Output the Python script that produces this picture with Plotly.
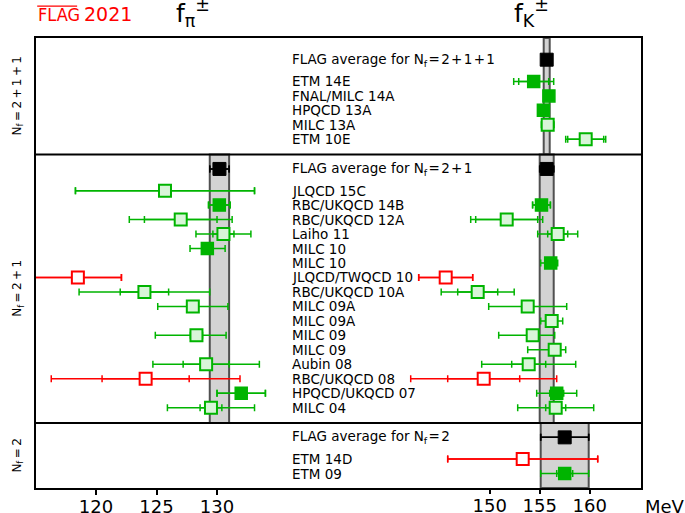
import plotly.graph_objects as go

# ---- data (MeV) ----
# Nf = 2+1+1 : only f_K
labels_2111 = ["ETM 14E", "FNAL/MILC 14A", "HPQCD 13A", "MILC 13A", "ETM 10E"]
quality_2111 = ["good", "good", "good", "ok", "ok"]
fk_2111 = [154.4, 155.92, 155.37, 155.80, 159.6]
fk_2111_stat = [1.5, 0.13, 0.34, 0.34, 1.8]
fk_2111_up = [2.0, 0.34, 0.34, 0.63, 2.0]
fk_2111_dn = [2.0, 0.25, 0.34, 0.63, 2.0]

# Nf = 2+1
labels_21 = ["JLQCD 15C", "RBC/UKQCD 14B", "RBC/UKQCD 12A", "Laiho 11", "MILC 10",
             "MILC 10", "JLQCD/TWQCD 10", "RBC/UKQCD 10A", "MILC 09A", "MILC 09A",
             "MILC 09", "MILC 09", "Aubin 08", "RBC/UKQCD 08", "HPQCD/UKQCD 07", "MILC 04"]
quality_21 = ["ok", "good", "ok", "ok", "good", "good", "bad", "ok", "ok", "ok",
              "ok", "ok", "ok", "bad", "good", "ok"]
fpi_21 = [125.7, 130.19, 127.0, 130.53, 129.2, None, 118.5, 124.0, 128.0, None,
          128.3, None, 129.1, 124.1, 132.0, 129.5]
fpi_21_stat = [7.4, 0.89, 3.0, 0.87, 0.4, None, 3.6, 2.0, 0.3, None,
               0.5, None, 1.9, 3.6, 2.0, 0.9]
fpi_21_up = [7.4, 0.89, 4.25, 2.27, 1.47, None, 3.6, 5.4, 2.9, None,
             2.45, None, 4.4, 7.8, 2.0, 3.6]
fpi_21_dn = [7.4, 0.89, 4.25, 2.27, 1.43, None, 3.6, 5.4, 2.9, None,
             3.4, None, 4.4, 7.8, 2.0, 3.6]
fk_21 = [None, 155.18, 151.7, 156.8, None, 156.1, 145.6, 148.8, 153.8, 156.2,
         154.3, 156.5, 153.9, 149.4, 156.7, 156.6]
fk_21_stat = [None, 0.89, 3.1, 1.0, None, 0.4, 2.7, 2.0, 0.5, 0.3,
              0.4, 0.4, 1.7, 3.6, 0.7, 1.0]
fk_21_up = [None, 0.89, 3.6, 2.0, None, 0.7, 2.7, 3.65, 3.9, 1.1,
            2.2, 1.1, 4.7, 7.3, 2.0, 3.8]
fk_21_dn = [None, 0.89, 3.6, 2.0, None, 1.0, 2.7, 3.65, 3.9, 1.1,
            3.4, 2.7, 4.7, 7.3, 2.0, 3.8]

# Nf = 2 : only f_K
labels_2 = ["ETM 14D", "ETM 09"]
quality_2 = ["bad", "good"]
fk_2 = [153.3, 157.5]
fk_2_stat = [7.5, 0.8]
fk_2_up = [7.5, 2.4]
fk_2_dn = [7.5, 2.4]

# FLAG averages (value, error); None = no average
avg_names = ["2+1+1", "2+1", "2"]
avg_fpi = [None, (130.2, 0.8), None]
avg_fk = [(155.7, 0.3), (155.7, 0.7), (157.5, 2.4)]

# ---- styles ----
GREEN = "#00b400"
styles = {
    "good": dict(color=GREEN, line=dict(color=GREEN, width=1.5), size=12),
    "ok": dict(color="#d8f5d8", line=dict(color=GREEN, width=2), size=12),
    "bad": dict(color="white", line=dict(color="#ff0000", width=2), size=12),
    "avg": dict(color="black", line=dict(color="black", width=1), size=13),
}
bar_color = {"good": GREEN, "ok": GREEN, "bad": "#ff0000", "avg": "black"}

# ---- vertical layout in row units ----
sections = [
    dict(name="2+1+1", labels=labels_2111, q=quality_2111,
         fpi=[None] * 5, fpi_s=[None] * 5, fpi_u=[None] * 5, fpi_d=[None] * 5,
         fk=fk_2111, fk_s=fk_2111_stat, fk_u=fk_2111_up, fk_d=fk_2111_dn),
    dict(name="2+1", labels=labels_21, q=quality_21,
         fpi=fpi_21, fpi_s=fpi_21_stat, fpi_u=fpi_21_up, fpi_d=fpi_21_dn,
         fk=fk_21, fk_s=fk_21_stat, fk_u=fk_21_up, fk_d=fk_21_dn),
    dict(name="2", labels=labels_2, q=quality_2,
         fpi=[None] * 2, fpi_s=[None] * 2, fpi_u=[None] * 2, fpi_d=[None] * 2,
         fk=fk_2, fk_s=fk_2_stat, fk_u=fk_2_up, fk_d=fk_2_dn),
]

y = 0.5
bounds = []
for s in sections:
    top = 0.0 if not bounds else bounds[-1][1]
    y += 1.0
    s["yavg"] = y
    y += 1.5
    s["ys"] = [y + i for i in range(len(s["labels"]))]
    y = s["ys"][-1] + 1.05
    bounds.append((top, y))
ybottom = sections[-1]["ys"][-1] + 1.0
bounds[-1] = (bounds[-1][0], ybottom)

# collect points: key (axis, style) -> lists
pts = {}


def add(axis, style, xv, yv, stat, up, dn):
    d = pts.setdefault((axis, style), dict(x=[], y=[], s=[], u=[], d=[]))
    d["x"].append(xv)
    d["y"].append(yv)
    d["s"].append(stat)
    d["u"].append(up)
    d["d"].append(dn)


for s, a_pi, a_k in zip(sections, avg_fpi, avg_fk):
    if a_pi:
        add("x", "avg", a_pi[0], s["yavg"], a_pi[1], a_pi[1], a_pi[1])
    if a_k:
        add("x2", "avg", a_k[0], s["yavg"], a_k[1], a_k[1], a_k[1])
    for i, yy in enumerate(s["ys"]):
        if s["fpi"][i] is not None:
            add("x", s["q"][i], s["fpi"][i], yy, s["fpi_s"][i], s["fpi_u"][i], s["fpi_d"][i])
        if s["fk"][i] is not None:
            add("x2", s["q"][i], s["fk"][i], yy, s["fk_s"][i], s["fk_u"][i], s["fk_d"][i])

fig = go.Figure()
for (axis, style), d in pts.items():
    c = bar_color[style]
    # statistical error ticks
    fig.add_trace(go.Scatter(
        x=d["x"], y=d["y"], xaxis=axis, yaxis="y", mode="markers",
        marker=dict(size=1, color="rgba(0,0,0,0)"),
        error_x=dict(type="data", array=d["s"], color=c, thickness=1.5, width=3.5),
        showlegend=False, hoverinfo="skip"))
    # total error + marker
    fig.add_trace(go.Scatter(
        x=d["x"], y=d["y"], xaxis=axis, yaxis="y", mode="markers",
        marker=dict(symbol="square", **styles[style]),
        error_x=dict(type="data", symmetric=False, array=d["u"], arrayminus=d["d"],
                     color=c, thickness=1.5, width=3.5),
        showlegend=False))

shapes = []
# FLAG bands
for (top, bot), s, a_pi, a_k in zip(bounds, sections, avg_fpi, avg_fk):
    for a, xr in ((a_pi, "x"), (a_k, "x2")):
        if a:
            shapes.append(dict(type="rect", xref=xr, yref="y", x0=a[0] - a[1], x1=a[0] + a[1],
                               y0=top, y1=bot, fillcolor="#d3d3d3",
                               line=dict(color="#505050", width=2), layer="below"))
# section separators
for top, bot in bounds[:-1]:
    shapes.append(dict(type="line", xref="paper", yref="y", x0=0, x1=1, y0=bot, y1=bot,
                       line=dict(color="black", width=2)))
# overline of FLAG logo
shapes.append(dict(type="line", xref="paper", yref="paper", x0=0.002, x1=0.068,
                   y0=1.071, y1=1.071, line=dict(color="red", width=1.2)))

ann = []
LAB = 13.5
sp = "\u200a"
for s in sections:
    nf = s["name"].replace("+", f"{sp}+{sp}")
    ann.append(dict(xref="paper", yref="y", x=0.42, y=s["yavg"], xanchor="left",
                    text=f"FLAG average for N<sub>f</sub>{sp}={sp}{nf}", showarrow=False,
                    font=dict(size=LAB)))
    for lab, yy in zip(s["labels"], s["ys"]):
        ann.append(dict(xref="paper", yref="y", x=0.42, y=yy, xanchor="left",
                        text=lab, showarrow=False, font=dict(size=LAB)))
for (top, bot), s in zip(bounds, sections):
    nf = s["name"].replace("+", "\u2009+\u2009")
    ann.append(dict(xref="paper", yref="y", x=-0.046, y=(top + bot) / 2, textangle=-90,
                    text=f"N<sub>f</sub>\u2009=\u2009{nf}", showarrow=False, font=dict(size=12)))

ann += [
    dict(xref="paper", yref="paper", x=0.228, y=1.012, xanchor="left", yanchor="bottom",
         text="f<sub>π</sub><sup>±</sup>", showarrow=False, font=dict(size=25)),
    dict(xref="paper", yref="paper", x=0.786, y=1.012, xanchor="left", yanchor="bottom",
         text="f<sub>K</sub><sup>±</sup>", showarrow=False, font=dict(size=25)),
    dict(xref="paper", yref="paper", x=0.0, y=1.024, xanchor="left", yanchor="bottom",
         text="FLAG", showarrow=False,
         font=dict(size=18, color="red", family="DejaVu Sans Condensed, Liberation Sans Narrow, DejaVu Sans")),
    dict(xref="paper", yref="paper", x=0.076, y=1.024, xanchor="left", yanchor="bottom",
         text="2021", showarrow=False, font=dict(size=19, color="red")),
    dict(xref="paper", yref="paper", x=1.003, y=-0.04, xanchor="left", yanchor="middle",
         text="MeV", showarrow=False, font=dict(size=18)),
]

fig.update_layout(
    width=685, height=513,
    margin=dict(l=36, r=44, t=38, b=25, autoexpand=False),
    plot_bgcolor="white", paper_bgcolor="white",
    font=dict(family="DejaVu Sans", color="black"),
    shapes=shapes, annotations=ann,
    xaxis=dict(range=[115.04, 165.04], tickvals=[120, 125, 130], ticks="outside",
               ticklen=5, tickwidth=1.5, tickcolor="black", showline=True, mirror=True,
               linecolor="black", linewidth=2, showgrid=False, zeroline=False,
               tickfont=dict(size=18), ticklabelstandoff=-4),
    xaxis2=dict(range=[104.63, 165.13], overlaying="x", side="bottom", anchor="y",
                tickvals=[150, 155, 160], ticks="outside", ticklen=5, tickwidth=1.5,
                tickcolor="black", showline=False, showgrid=False, zeroline=False,
                tickfont=dict(size=18), ticklabelstandoff=-4),
    yaxis=dict(range=[ybottom, 0], showticklabels=False, ticks="", showgrid=False,
               zeroline=False, showline=True, mirror=True, linecolor="black", linewidth=2),
)

# drop the default 8px page margin so the figure fills the window
fig.write_html("out.html", config={"displayModeBar": False},
               post_script="document.body.style.margin='0';")
